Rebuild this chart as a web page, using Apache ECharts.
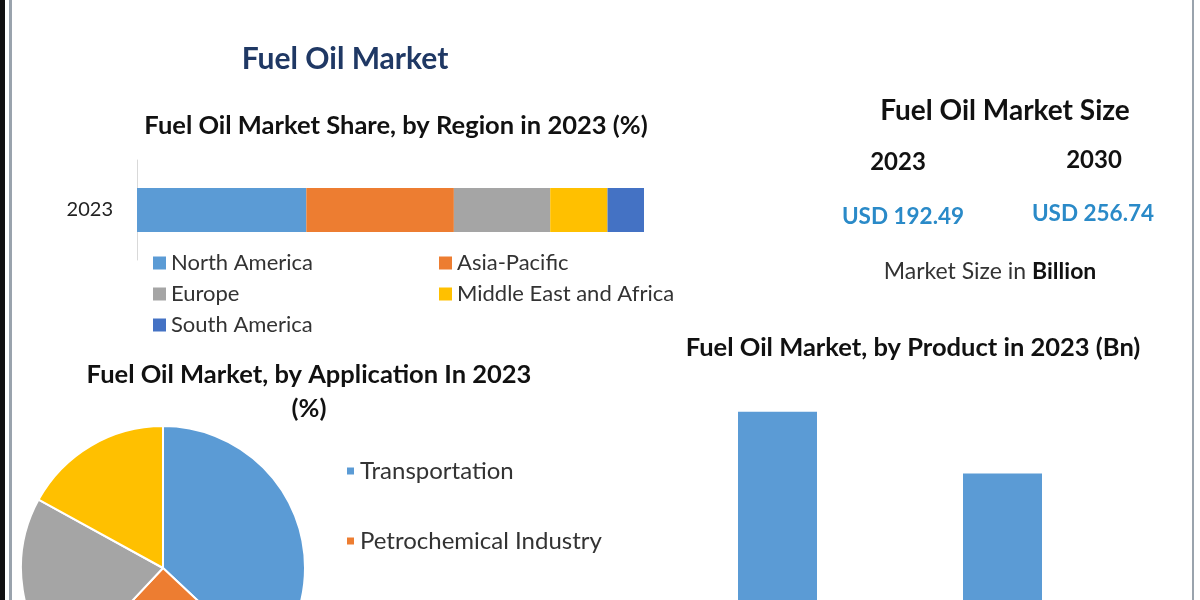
<!DOCTYPE html>
<html>
<head>
<meta charset="utf-8">
<title>Fuel Oil Market</title>
<script src="https://cdn.jsdelivr.net/npm/echarts@6/dist/echarts.min.js"></script>
<style>
  html, body { margin: 0; padding: 0; background: #fff; }
  #chart { width: 1200px; height: 600px; }
</style>
</head>
<body>
<div id="chart"></div>
<script>
// region share 2023 (%)
const regions = ['North America', 'Asia-Pacific', 'Europe', 'Middle East and Africa', 'South America'];
const regionShare = [33.4, 29.1, 19.0, 11.3, 7.2];
const regionYears = ['2023'];

// application share 2023 (%)
const applications = ['Transportation', 'Petrochemical Industry', 'Power Generation', 'Others'];
const applicationShare = [37, 25, 21, 17];

// product 2023 (Bn)
const products = ['Heavy Fuel Oil', 'Light Fuel Oil'];
const productValues = [112.0, 80.5];

// market size
const sizeYears = ['2023', '2030'];
const sizeValues = ['USD 192.49', 'USD 256.74'];

const colors = ['#5b9bd5', '#ed7d31', '#a5a5a5', '#ffc000', '#4472c4'];
const FONT = 'Lato, "Open Sans", sans-serif';

const chart = echarts.init(document.getElementById('chart'));

// centred heading, y is the middle of the text line
function heading(text, x, y, size, color) {
  return {
    text: text,
    left: x,
    top: y - size / 2,
    textAlign: 'center',
    padding: 0,
    textStyle: { fontFamily: FONT, fontSize: size, fontWeight: 'bold', color: color || '#111' }
  };
}

const option = {
  color: colors,
  animation: false,
  title: [
    heading('Fuel Oil Market', 345, 59, 30, '#1f3864'),
    heading('Fuel Oil Market Share, by Region in 2023 (%)', 396, 126, 25.5),
    heading('Fuel Oil Market Size', 1005, 111, 28),
    heading(sizeYears[0], 898, 162, 24),
    heading(sizeYears[1], 1094, 160, 24),
    heading(sizeValues[0], 903, 216, 22.5, '#2a8ac8'),
    heading(sizeValues[1], 1093, 213, 22.5, '#2a8ac8'),
    {
      text: '{n|Market Size in }{b|Billion}',
      left: 990, top: 272 - 11.5, textAlign: 'center', padding: 0,
      textStyle: {
        rich: {
          n: { fontFamily: FONT, fontSize: 23, fontWeight: 'normal', color: '#333' },
          b: { fontFamily: FONT, fontSize: 23, fontWeight: 'bold', color: '#111' }
        }
      }
    },
    heading('Fuel Oil Market, by Application In 2023', 309, 375, 25.5),
    heading('(%)', 309, 409, 25.5),
    heading('Fuel Oil Market, by Product in 2023 (Bn)', 913, 348, 25.5)
  ],
  legend: [
    {
      data: [regions[0], regions[2], regions[4]],
      orient: 'vertical', left: 148, top: 247, itemGap: 9, height: 200,
      itemWidth: 13, itemHeight: 13, icon: 'rect',
      textStyle: { fontFamily: FONT, fontSize: 22, color: '#333' }
    },
    {
      data: [regions[1], regions[3]],
      orient: 'vertical', left: 434, top: 247, itemGap: 9, height: 200,
      itemWidth: 13, itemHeight: 13, icon: 'rect',
      textStyle: { fontFamily: FONT, fontSize: 22, color: '#333' }
    },
    {
      data: applications,
      orient: 'vertical', left: 340, top: 454, itemGap: 46, height: 400,
      itemWidth: 9, itemHeight: 9, icon: 'rect',
      textStyle: { fontFamily: FONT, fontSize: 24, color: '#333' }
    }
  ],
  grid: [
    { left: 137, right: 556, top: 160, bottom: 340 },
    // value axis starts a little above zero: the baseline sits below the picture edge
    { left: 665, right: 85, top: 396, bottom: 0 }
  ],
  xAxis: [
    { gridIndex: 0, type: 'value', min: 0, max: 100, show: false },
    { gridIndex: 1, type: 'category', data: products, show: false }
  ],
  yAxis: [
    {
      gridIndex: 0, type: 'category', data: regionYears,
      axisLine: { show: true, lineStyle: { color: '#d9d9d9' } },
      axisTick: { show: false },
      axisLabel: { fontFamily: FONT, fontSize: 20, color: '#222', margin: 24 }
    },
    { gridIndex: 1, type: 'value', min: 16, max: 120, show: false }
  ],
  series: regions.map(function (name, i) {
    return {
      name: name,
      type: 'bar',
      stack: 'region',
      xAxisIndex: 0, yAxisIndex: 0,
      barWidth: 44,
      data: [regionShare[i]]
    };
  }).concat([
    {
      name: 'Product',
      type: 'bar',
      xAxisIndex: 1, yAxisIndex: 1,
      barWidth: 79,
      itemStyle: { color: colors[0] },
      data: productValues
    },
    {
      name: 'Application',
      type: 'pie',
      center: [163, 568],
      radius: 142,
      startAngle: 90,
      clockwise: true,
      label: { show: false },
      labelLine: { show: false },
      itemStyle: { borderColor: '#fff', borderWidth: 2 },
      data: applications.map(function (name, i) {
        return { name: name, value: applicationShare[i] };
      })
    }
  ]),
  graphic: [
    { type: 'rect', shape: { x: 0, y: 0, width: 5, height: 600 }, style: { fill: '#111' } },
    { type: 'rect', shape: { x: 9, y: 0, width: 3, height: 600 }, style: { fill: '#9aa3ad' } },
    { type: 'rect', shape: { x: 1192, y: 0, width: 2, height: 600 }, style: { fill: '#9aa3ad' } }
  ]
};

chart.setOption(option);
window.addEventListener('resize', () => {
  chart.resize();
});
</script>
</body>
</html>
